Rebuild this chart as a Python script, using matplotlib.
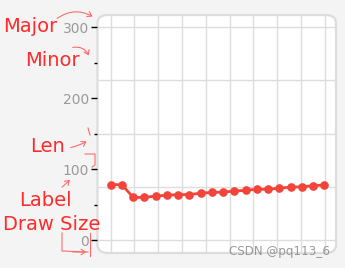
import matplotlib.pyplot as plt
import numpy as np
from matplotlib.patches import FancyBboxPatch, FancyArrowPatch
from matplotlib.ticker import MultipleLocator

# data
values = [78, 78, 60, 60, 62, 63, 64, 64, 66, 67, 67.5, 69, 70, 71.5, 71.5, 73, 74.5, 75, 76.5, 77.5]
x = np.arange(len(values))
y_major = [0, 100, 200, 300]
notes = ["Major", "Minor", "Len", "Label", "Draw Size"]

W, H = 345, 268
red = "#f2443a"
note_red = "#ff2a2a"

fig = plt.figure(figsize=(W / 100, H / 100), dpi=100)
fig.patch.set_facecolor("#f4f4f4")

def fx(px):
    return px / W

def fy(py):
    return 1 - py / H

# plot area
left, right, top, bottom = 97.5, 336, 15, 253
ax = fig.add_axes([fx(left), fy(bottom), fx(right - left), (bottom - top) / H])
ax.set_facecolor("none")
ax.set_zorder(1)
frame = FancyBboxPatch((fx(left), fy(bottom)), fx(right - left), (bottom - top) / H,
                       boxstyle="round,pad=0,rounding_size=0.03", transform=fig.transFigure,
                       facecolor="white", edgecolor="#dddddd", linewidth=1.6, zorder=-1)
fig.patches.append(frame)

ax.set_xlim(-1.17, 20.04)
ax.set_ylim(-18.3, 317)
for s in ax.spines.values():
    s.set_visible(False)

# grid lines (not aligned to ticks in the original)
for gx in np.linspace(0, 19.05, 10):
    ax.axvline(gx, color="#dddddd", lw=1, zorder=1)
for gy in np.arange(0, 301, 75):
    ax.axhline(gy, color="#dddddd", lw=1, zorder=1)

ax.plot(x, values, color=red, lw=2, marker="o", ms=5.2, zorder=3)

ax.set_xticks([])
ax.set_yticks(y_major)
ax.yaxis.set_minor_locator(MultipleLocator(50))
ax.tick_params(axis="y", which="major", length=4, width=1, color="black",
               labelcolor="#9a9a9a", labelsize=10, pad=2)
ax.tick_params(axis="y", which="minor", length=2.5, width=1, color="black")

# red hand-drawn notes
fs = 14
fig.text(fx(30), fy(27), notes[0], color=note_red, fontsize=fs, ha="center", va="center")
fig.text(fx(52), fy(61), notes[1], color=note_red, fontsize=fs, ha="center", va="center")
fig.text(fx(47), fy(147), notes[2], color=note_red, fontsize=fs, ha="center", va="center")
fig.text(fx(45), fy(201), notes[3], color=note_red, fontsize=fs, ha="center", va="center")
fig.text(fx(51.5), fy(225), notes[4], color=note_red, fontsize=fs, ha="center", va="center")

def arrow(p0, p1, rad):
    a = FancyArrowPatch((fx(p0[0]), fy(p0[1])), (fx(p1[0]), fy(p1[1])),
                        transform=fig.transFigure, connectionstyle=f"arc3,rad={rad}",
                        arrowstyle="->,head_length=3,head_width=2", color="#ff6b6b", lw=0.8)
    fig.patches.append(a)

def line(xs, ys):
    fig.add_artist(plt.Line2D([fx(v) for v in xs], [fy(v) for v in ys],
                              transform=fig.transFigure, color="#ff6b6b", lw=0.8))

arrow((55, 20), (95, 18), -0.35)
arrow((70, 48), (90, 58), -0.45)
arrow((68, 148), (89, 140), 0.1)
arrow((60, 189), (72, 178), 0.0)
line([88, 90], [128, 135])
line([85, 95, 95, 92], [154, 154, 165, 167])
line([62, 62, 88], [233, 251, 252])
line([90, 90], [233, 256])
arrow((70, 252), (89, 252), 0.0)

fig.text(fx(330), fy(251), "CSDN @pq113_6", color="#888888", alpha=0.85,
         fontsize=8.6, ha="right", va="center")

fig.savefig("out.png", dpi=100, facecolor=fig.get_facecolor())
